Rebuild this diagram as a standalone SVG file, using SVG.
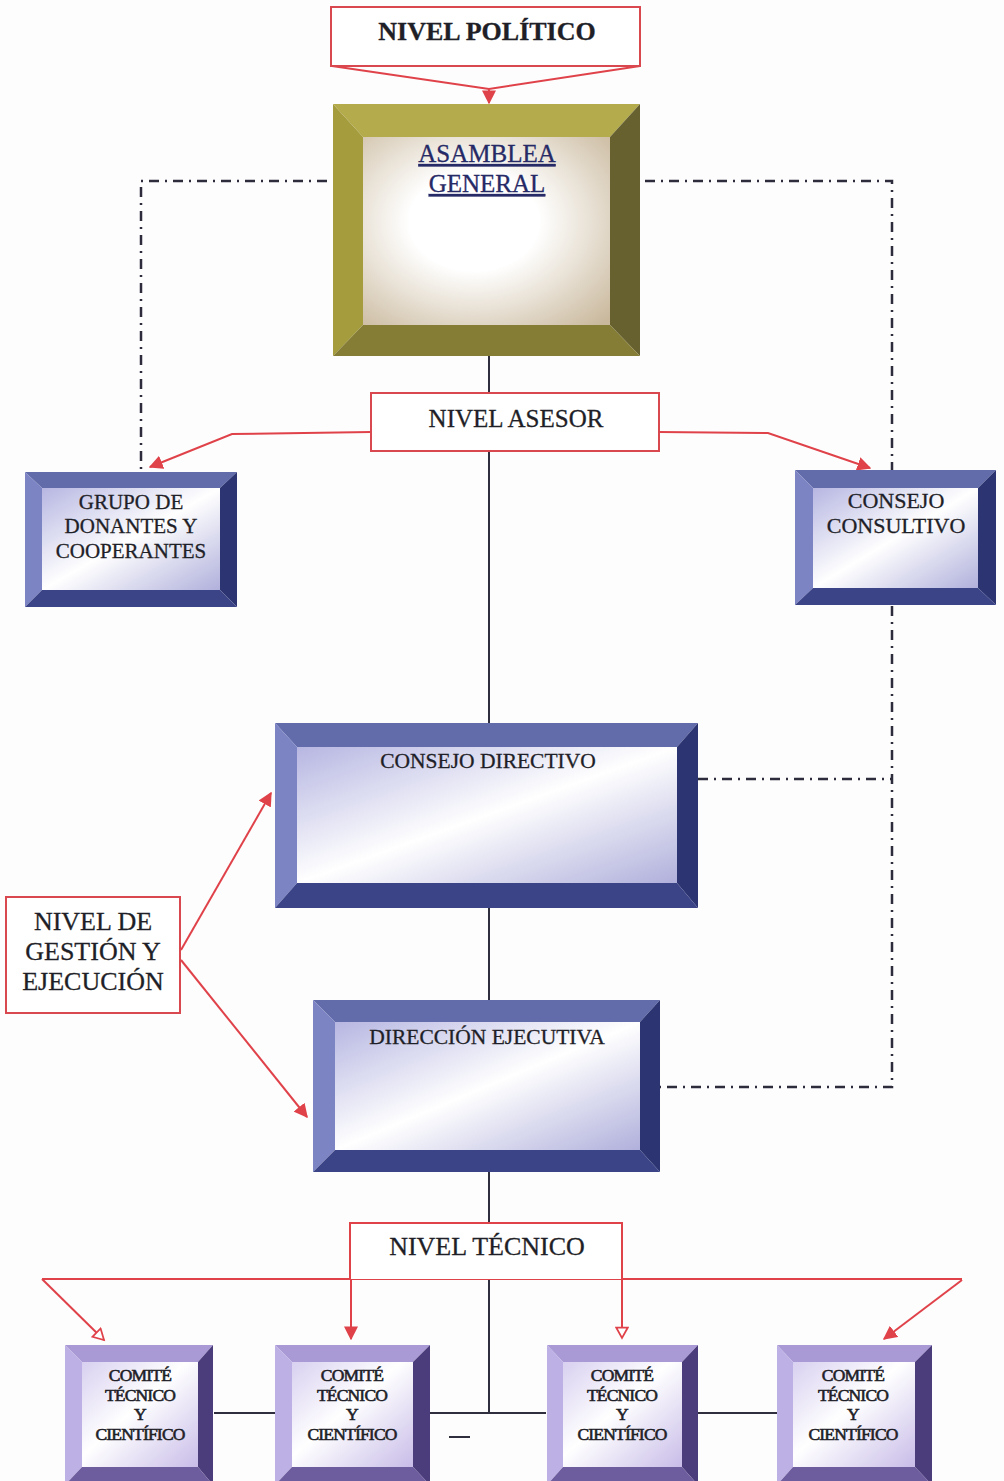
<svg xmlns="http://www.w3.org/2000/svg" width="1004" height="1481" viewBox="0 0 1004 1481">
<defs>
<style>
.lbl{fill:#fff;stroke:#d9474f;stroke-width:2}
.red{fill:none;stroke:#e0424a;stroke-width:2}
.solid{fill:none;stroke:#2e2e3e;stroke-width:2}
.dd{fill:none;stroke:#2c2c3c;stroke-width:2.5;stroke-dasharray:10 6 2 6}
.t{font-family:"Liberation Serif","Times New Roman",serif;fill:#1f1f28;stroke:#1f1f28;stroke-width:0.3;text-anchor:middle}
.bt{fill:#636cab}.bl{fill:#7c84c4}.br{fill:#2c3472}.bb{fill:#3c4488}
.ct{fill:#a99ad6}.cl{fill:#bcb0e4}.cr{fill:#4b3c7c}.cb{fill:#6d5c9e}
.gt{fill:#b4ab4c}.gl{fill:#a59c3e}.gr{fill:#676130}.gb{fill:#857d36}
</style>
<linearGradient id="blueFace" x1="0" y1="0" x2="1" y2="1">
<stop offset="0" stop-color="#b6b6e2"/><stop offset="0.5" stop-color="#ffffff"/><stop offset="1" stop-color="#b0b0dc"/>
</linearGradient>
<linearGradient id="purpFace" x1="0" y1="0" x2="1" y2="1">
<stop offset="0" stop-color="#d8d0f0"/><stop offset="0.45" stop-color="#ffffff"/><stop offset="1" stop-color="#c8bce8"/>
</linearGradient>
<radialGradient id="goldFace" cx="0.45" cy="0.45" r="0.75">
<stop offset="0.35" stop-color="#ffffff"/><stop offset="1" stop-color="#c9b89c"/>
</radialGradient>
<marker id="ao" viewBox="0 0 12 12" refX="10" refY="6" markerWidth="14" markerHeight="14" orient="auto" markerUnits="userSpaceOnUse">
<path d="M1,1 L10,6 L1,11 z" fill="#fff" stroke="#e0424a" stroke-width="1.5"/>
</marker>
<marker id="ab" viewBox="0 0 10 10" refX="9" refY="5" markerWidth="14" markerHeight="14" orient="auto" markerUnits="userSpaceOnUse">
<path d="M0,0 L10,5 L0,10 z" fill="#e0424a"/>
</marker>
</defs>
<rect width="1004" height="1481" fill="#fdfdfd"/>

<g id="connectors">
<path class="solid" d="M489,356 V1413 M214,1413 H276 M430,1413 H546 M698,1413 H777"/>
<path class="solid" d="M449,1437 H470"/>
<path class="dd" d="M327,181 H141 V470"/>
<path class="dd" d="M645,181 H892 V470"/>
<path class="dd" d="M892,606 V1087 H660"/>
<path class="dd" d="M698,779 H892"/>
<path class="red" d="M332,66 L489,89 L640,66"/>
<path class="red" d="M489,89 V103" marker-end="url(#ab)"/>
<path class="red" d="M371,432 L232,434 L150,467" marker-end="url(#ab)"/>
<path class="red" d="M659,432 L768,433 L870,468" marker-end="url(#ab)"/>
<path class="red" d="M181,950 L271,793" marker-end="url(#ab)"/>
<path class="red" d="M181,960 L307,1117" marker-end="url(#ab)"/>
<path class="red" d="M42,1279 H962"/>
<path class="red" d="M42,1279 L104,1340" marker-end="url(#ao)"/>
<path class="red" d="M351,1280 V1339" marker-end="url(#ab)"/>
<path class="red" d="M622,1280 V1338" marker-end="url(#ao)"/>
<path class="red" d="M962,1280 L884,1339" marker-end="url(#ab)"/>
</g>

<g id="nivel-politico">
<rect class="lbl" x="331" y="7" width="309" height="59"/>
<text class="t" x="487" y="40" font-size="26" font-weight="bold">NIVEL POLÍTICO</text>
</g>

<g id="asamblea-general">
<polygon class="gt" points="333,104 640,104 610,137 363,137"/>
<polygon class="gl" points="333,104 363,137 363,325 333,356"/>
<polygon class="gr" points="640,104 640,356 610,325 610,137"/>
<polygon class="gb" points="333,356 363,325 610,325 640,356"/>
<rect x="363" y="137" width="247" height="188" fill="url(#goldFace)"/>
<text class="t" x="487" y="162" font-size="25" style="fill:#262a66;stroke:#262a66" text-decoration="underline">ASAMBLEA</text>
<text class="t" x="487" y="192" font-size="25" style="fill:#262a66;stroke:#262a66" text-decoration="underline">GENERAL</text>
</g>

<g id="nivel-asesor">
<rect class="lbl" x="371" y="393" width="288" height="58"/>
<text class="t" x="516" y="427" font-size="25">NIVEL ASESOR</text>
</g>

<g id="grupo-donantes">
<polygon class="bt" points="25,472 237,472 220,488 42,488"/>
<polygon class="bl" points="25,472 42,488 42,590 25,607"/>
<polygon class="br" points="237,472 237,607 220,590 220,488"/>
<polygon class="bb" points="25,607 42,590 220,590 237,607"/>
<rect x="42" y="488" width="178" height="102" fill="url(#blueFace)"/>
<text class="t" x="131" y="509" font-size="21">GRUPO DE</text>
<text class="t" x="131" y="533" font-size="21">DONANTES Y</text>
<text class="t" x="131" y="558" font-size="21">COOPERANTES</text>
</g>

<g id="consejo-consultivo">
<polygon class="bt" points="795,470 996,470 978,488 813,488"/>
<polygon class="bl" points="795,470 813,488 813,588 795,605"/>
<polygon class="br" points="996,470 996,605 978,588 978,488"/>
<polygon class="bb" points="795,605 813,588 978,588 996,605"/>
<rect x="813" y="488" width="165" height="100" fill="url(#blueFace)"/>
<text class="t" x="896" y="508" font-size="22">CONSEJO</text>
<text class="t" x="896" y="533" font-size="22">CONSULTIVO</text>
</g>

<g id="consejo-directivo">
<polygon class="bt" points="275,723 698,723 677,747 297,747"/>
<polygon class="bl" points="275,723 297,747 297,883 275,908"/>
<polygon class="br" points="698,723 698,908 677,883 677,747"/>
<polygon class="bb" points="275,908 297,883 677,883 698,908"/>
<rect x="297" y="747" width="380" height="136" fill="url(#blueFace)"/>
<text class="t" x="488" y="768" font-size="21.5">CONSEJO DIRECTIVO</text>
</g>

<g id="nivel-gestion">
<rect class="lbl" x="6" y="897" width="174" height="116"/>
<text class="t" x="93" y="930" font-size="26">NIVEL DE</text>
<text class="t" x="93" y="960" font-size="26">GESTIÓN Y</text>
<text class="t" x="93" y="990" font-size="26">EJECUCIÓN</text>
</g>

<g id="direccion-ejecutiva">
<polygon class="bt" points="313,1000 660,1000 640,1022 335,1022"/>
<polygon class="bl" points="313,1000 335,1022 335,1150 313,1172"/>
<polygon class="br" points="660,1000 660,1172 640,1150 640,1022"/>
<polygon class="bb" points="313,1172 335,1150 640,1150 660,1172"/>
<rect x="335" y="1022" width="305" height="128" fill="url(#blueFace)"/>
<text class="t" x="487" y="1044" font-size="21.5">DIRECCIÓN EJECUTIVA</text>
</g>

<g id="nivel-tecnico">
<rect x="350" y="1223" width="272" height="56" fill="#fff"/>
<path class="red" d="M350,1280 V1223 H622 V1280"/>
<text class="t" x="487" y="1255" font-size="26">NIVEL TÉCNICO</text>
</g>

<g id="comite-1">
<polygon class="ct" points="65,1345 213,1345 198,1362 82,1362"/>
<polygon class="cl" points="65,1345 82,1362 82,1467 65,1485"/>
<polygon class="cr" points="213,1345 213,1485 198,1467 198,1362"/>
<polygon class="cb" points="65,1485 82,1467 198,1467 213,1485"/>
<rect x="82" y="1362" width="116" height="105" fill="url(#purpFace)"/>
<g class="t" font-size="17.5" letter-spacing="-0.8" style="stroke-width:0.6">
<text x="140" y="1381">COMITÉ</text><text x="140" y="1401">TÉCNICO</text><text x="140" y="1420">Y</text><text x="140" y="1440">CIENTÍFICO</text>
</g>
</g>

<g id="comite-2">
<polygon class="ct" points="275,1345 430,1345 413,1362 292,1362"/>
<polygon class="cl" points="275,1345 292,1362 292,1467 275,1485"/>
<polygon class="cr" points="430,1345 430,1485 413,1467 413,1362"/>
<polygon class="cb" points="275,1485 292,1467 413,1467 430,1485"/>
<rect x="292" y="1362" width="121" height="105" fill="url(#purpFace)"/>
<g class="t" font-size="17.5" letter-spacing="-0.8" style="stroke-width:0.6">
<text x="352" y="1381">COMITÉ</text><text x="352" y="1401">TÉCNICO</text><text x="352" y="1420">Y</text><text x="352" y="1440">CIENTÍFICO</text>
</g>
</g>

<g id="comite-3">
<polygon class="ct" points="547,1345 698,1345 682,1362 563,1362"/>
<polygon class="cl" points="547,1345 563,1362 563,1467 547,1485"/>
<polygon class="cr" points="698,1345 698,1485 682,1467 682,1362"/>
<polygon class="cb" points="547,1485 563,1467 682,1467 698,1485"/>
<rect x="563" y="1362" width="119" height="105" fill="url(#purpFace)"/>
<g class="t" font-size="17.5" letter-spacing="-0.8" style="stroke-width:0.6">
<text x="622" y="1381">COMITÉ</text><text x="622" y="1401">TÉCNICO</text><text x="622" y="1420">Y</text><text x="622" y="1440">CIENTÍFICO</text>
</g>
</g>

<g id="comite-4">
<polygon class="ct" points="777,1345 932,1345 915,1362 793,1362"/>
<polygon class="cl" points="777,1345 793,1362 793,1467 777,1485"/>
<polygon class="cr" points="932,1345 932,1485 915,1467 915,1362"/>
<polygon class="cb" points="777,1485 793,1467 915,1467 932,1485"/>
<rect x="793" y="1362" width="122" height="105" fill="url(#purpFace)"/>
<g class="t" font-size="17.5" letter-spacing="-0.8" style="stroke-width:0.6">
<text x="853" y="1381">COMITÉ</text><text x="853" y="1401">TÉCNICO</text><text x="853" y="1420">Y</text><text x="853" y="1440">CIENTÍFICO</text>
</g>
</g>
</svg>
